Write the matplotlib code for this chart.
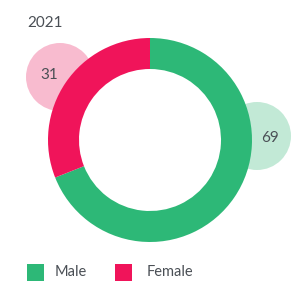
import matplotlib.pyplot as plt
from matplotlib.patches import Circle, Rectangle

# data
year = "2021"
labels = ["Male", "Female"]
values = [69, 31]

COLORS = ["#2DB877", "#F0145A"]
BUBBLE_COLORS = ["#C2E9D6", "#F8BBCF"]
TEXT = "#4A4F55"

plt.rcParams["font.family"] = ["Lato", "DejaVu Sans"]

W, H = 303, 305
fig = plt.figure(figsize=(W / 100, H / 100), dpi=100)
ax = fig.add_axes([0, 0, 1, 1])
ax.set_aspect("equal")

cx, cy, r = 150, 165, 102

# bubbles behind the ring
bubble_pos = [(257, 169), (60, 228)]
label_pos = [(270, 167), (49, 230)]
for (bx, by), (tx, ty), col, v in zip(bubble_pos, label_pos, BUBBLE_COLORS, values):
    ax.add_patch(Circle((bx, by), 34, color=col, lw=0, zorder=1))
    ax.text(tx, ty, str(v), ha="center", va="center", fontsize=11,
            color=TEXT, zorder=4)

ax.pie(values, colors=COLORS, startangle=90, counterclock=False,
       center=(cx, cy), radius=r, frame=True,
       wedgeprops=dict(width=31, linewidth=0))
for p in ax.patches[2:]:
    p.set_zorder(2)

ax.set_xlim(0, W)
ax.set_ylim(0, H)
ax.axis("off")

ax.text(27, 282, year, ha="left", va="center", fontsize=11, color=TEXT)

# legend
legend_x = [27, 115]
text_off = [28, 32]
for x0, off, lab, col in zip(legend_x, text_off, labels, COLORS):
    ax.add_patch(Rectangle((x0, 24), 17, 17, color=col, lw=0))
    ax.text(x0 + off, 32.5, lab, ha="left", va="center", fontsize=10.5,
            color=TEXT)

fig.savefig("out.png", dpi=100)
